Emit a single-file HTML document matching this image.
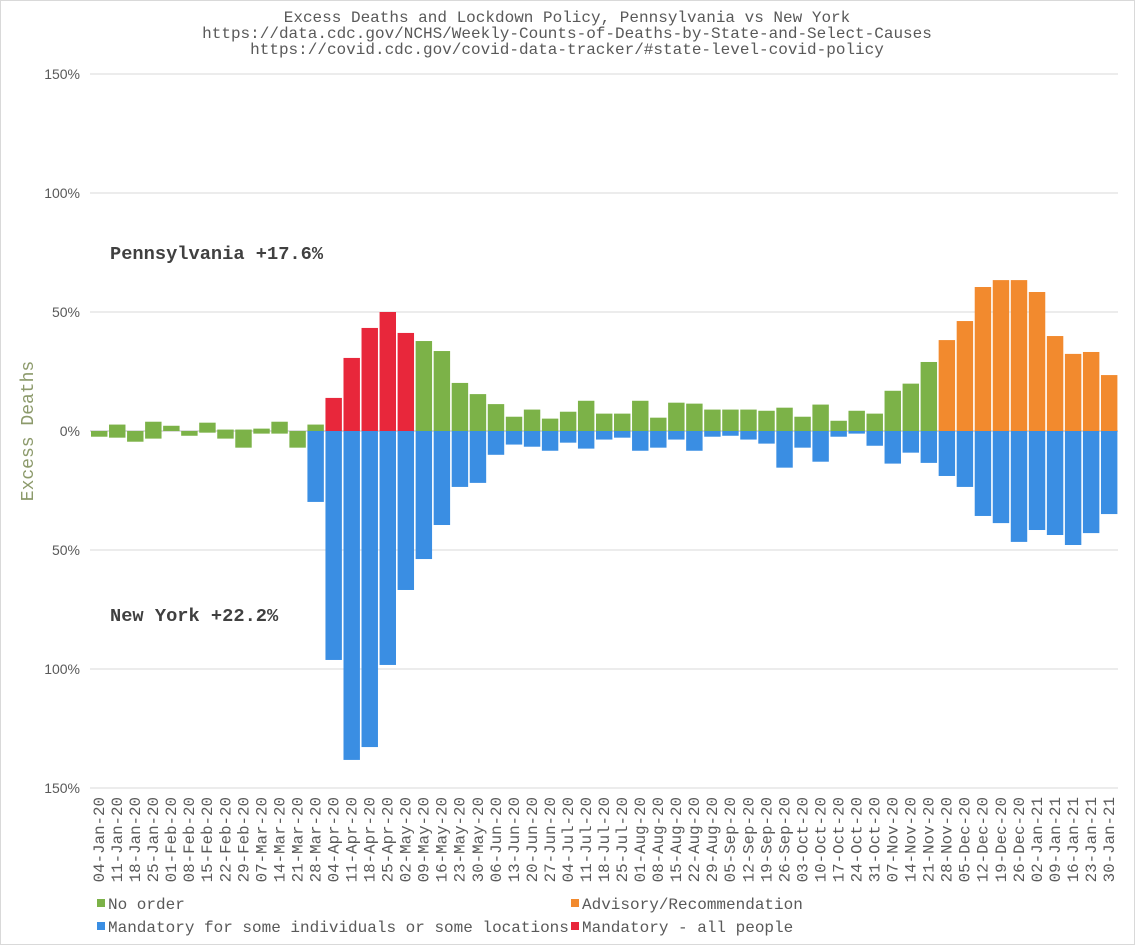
<!DOCTYPE html>
<html><head><meta charset="utf-8"><style>
body{margin:0;background:#fff;}
svg text{font-family:"Liberation Mono",monospace;fill:#595959;}
</style></head><body>
<svg id="chart" width="1135" height="945" viewBox="0 0 1135 945">
<rect x="0.5" y="0.5" width="1134" height="944" fill="#fff" stroke="#d9d9d9"/>
<g font-size="16" text-anchor="middle">
<text x="567" y="22">Excess Deaths and Lockdown Policy, Pennsylvania vs New York</text>
<text x="567" y="38">https://data.cdc.gov/NCHS/Weekly-Counts-of-Deaths-by-State-and-Select-Causes</text>
<text x="567" y="54">https://covid.cdc.gov/covid-data-tracker/#state-level-covid-policy</text>
</g>
<g id="grid"></g>
<g id="bars"></g>
<g id="xlabels"></g>
<text transform="translate(33,431) rotate(-90)" text-anchor="middle" font-size="18" style="fill:#8c9a6b">Excess Deaths</text>
<text x="110" y="259" font-size="18.7" font-weight="bold" style="fill:#404040">Pennsylvania +17.6%</text>
<text x="110" y="621" font-size="18.7" font-weight="bold" style="fill:#404040">New York +22.2%</text>
<g font-size="16">
<rect x="97" y="899" width="8" height="8" fill="#7cb248"/>
<text x="108" y="909">No order</text>
<rect x="571" y="899" width="8" height="8" fill="#f28a2e"/>
<text x="582" y="909">Advisory/Recommendation</text>
<rect x="97" y="922" width="8" height="8" fill="#3a8ee3"/>
<text x="108" y="932">Mandatory for some individuals or some locations</text>
<rect x="571" y="922" width="8" height="8" fill="#e8273b"/>
<text x="582" y="932">Mandatory - all people</text>
</g>
</svg>
<script>
const weeks = ["04-Jan-20","11-Jan-20","18-Jan-20","25-Jan-20","01-Feb-20","08-Feb-20","15-Feb-20","22-Feb-20","29-Feb-20","07-Mar-20","14-Mar-20","21-Mar-20","28-Mar-20","04-Apr-20","11-Apr-20","18-Apr-20","25-Apr-20","02-May-20","09-May-20","16-May-20","23-May-20","30-May-20","06-Jun-20","13-Jun-20","20-Jun-20","27-Jun-20","04-Jul-20","11-Jul-20","18-Jul-20","25-Jul-20","01-Aug-20","08-Aug-20","15-Aug-20","22-Aug-20","29-Aug-20","05-Sep-20","12-Sep-20","19-Sep-20","26-Sep-20","03-Oct-20","10-Oct-20","17-Oct-20","24-Oct-20","31-Oct-20","07-Nov-20","14-Nov-20","21-Nov-20","28-Nov-20","05-Dec-20","12-Dec-20","19-Dec-20","26-Dec-20","02-Jan-21","09-Jan-21","16-Jan-21","23-Jan-21","30-Jan-21"];
// Pennsylvania excess (%), drawn upward
const paValues = [0,2.7,0,3.9,2.2,0,3.5,0.6,0.6,1.0,3.9,0,2.7,13.9,30.7,43.3,50.0,41.2,37.8,33.6,20.2,15.5,11.3,6.0,9.0,5.2,8.1,12.7,7.3,7.3,12.7,5.6,11.9,11.5,9.0,9.0,9.0,8.5,9.8,6.0,11.1,4.3,8.5,7.3,16.9,19.9,29.0,38.2,46.2,60.5,63.4,63.4,58.4,39.9,32.4,33.2,23.5];
// New York excess (%), drawn downward
const nyValues = [2.4,2.8,4.5,3.2,0,2.0,0.7,3.2,7.0,1.1,1.1,7.0,29.8,96.2,138.2,132.8,98.3,66.8,53.8,39.5,23.5,21.8,10.0,5.7,6.6,8.3,4.9,7.4,3.6,2.8,8.3,7.0,3.6,8.3,2.4,2.0,3.6,5.3,15.4,7.0,12.9,2.4,1.1,6.2,13.7,9.1,13.4,18.9,23.5,35.7,38.7,46.6,41.6,43.7,47.9,42.9,34.9];
// policy codes: 0 no order, 1 advisory, 2 mandatory some, 3 mandatory all
const paPolicy = [0,0,0,0,0,0,0,0,0,0,0,0,0,3,3,3,3,3,0,0,0,0,0,0,0,0,0,0,0,0,0,0,0,0,0,0,0,0,0,0,0,0,0,0,0,0,0,1,1,1,1,1,1,1,1,1,1];
const nyPolicy = [0,0,0,0,0,0,0,0,0,0,0,0,2,2,2,2,2,2,2,2,2,2,2,2,2,2,2,2,2,2,2,2,2,2,2,2,2,2,2,2,2,2,2,2,2,2,2,2,2,2,2,2,2,2,2,2,2];
const yTicks = [150,100,50,0,-50,-100,-150];
const yTickLabels = ["150%","100%","50%","0%","50%","100%","150%"];

const colors = ["#7cb248","#f28a2e","#3a8ee3","#e8273b"];
const ns = "http://www.w3.org/2000/svg";
const x0 = 90, x1 = 1118, zeroY = 431, pxPer = 119/50;
const step = (x1 - x0) / weeks.length;
const yScale = v => zeroY - v * pxPer;
const xScale = i => x0 + i * step;

const grid = document.getElementById('grid');
yTicks.forEach((t, k) => {
  const y = yScale(t);
  const l = document.createElementNS(ns, 'line');
  
  
  l.setAttribute('x1', x0); l.setAttribute('x2', x1);
  l.setAttribute('y1', y); l.setAttribute('y2', y);
  l.setAttribute('stroke', t === 0 ? '#d0d0d0' : '#d9d9d9');
  l.setAttribute('stroke-width', t === 0 ? 1.5 : 1);
  grid.appendChild(l);
  const tx = document.createElementNS(ns, 'text');
  
  
  tx.setAttribute('x', 80); tx.setAttribute('y', y + 5);
  tx.setAttribute('text-anchor', 'end');
  tx.setAttribute('font-size', '14');
  tx.style.fontFamily = '"Liberation Sans", sans-serif';
  tx.textContent = yTickLabels[k];
  grid.appendChild(tx);
});

const bars = document.getElementById('bars');
const xl = document.getElementById('xlabels');
weeks.forEach((w, i) => {
  const bx = xScale(i) + 1, bw = step - 1.6;
  const pa = paValues[i], ny = nyValues[i];
  if (pa !== 0) {
    const r = document.createElementNS(ns, 'rect');
    
    
    const ya = yScale(pa);
    r.setAttribute('x', bx); r.setAttribute('width', bw);
    r.setAttribute('y', Math.min(ya, zeroY)); r.setAttribute('height', Math.abs(zeroY - ya));
    r.setAttribute('fill', colors[paPolicy[i]]);
    bars.appendChild(r);
  }
  if (ny !== 0) {
    const r = document.createElementNS(ns, 'rect');
    
    
    const yb = yScale(-ny);
    r.setAttribute('x', bx); r.setAttribute('width', bw);
    r.setAttribute('y', Math.min(yb, zeroY)); r.setAttribute('height', Math.abs(yb - zeroY));
    r.setAttribute('fill', colors[nyPolicy[i]]);
    bars.appendChild(r);
  }
  const t = document.createElementNS(ns, 'text');
  
  
  const cx = xScale(i) + step / 2 + 5;
  t.setAttribute('transform', 'translate(' + cx + ',797) rotate(-90)');
  t.setAttribute('text-anchor', 'end');
  t.setAttribute('font-size', '15.8');
  t.textContent = w;
  xl.appendChild(t);
});
</script>
</body></html>
